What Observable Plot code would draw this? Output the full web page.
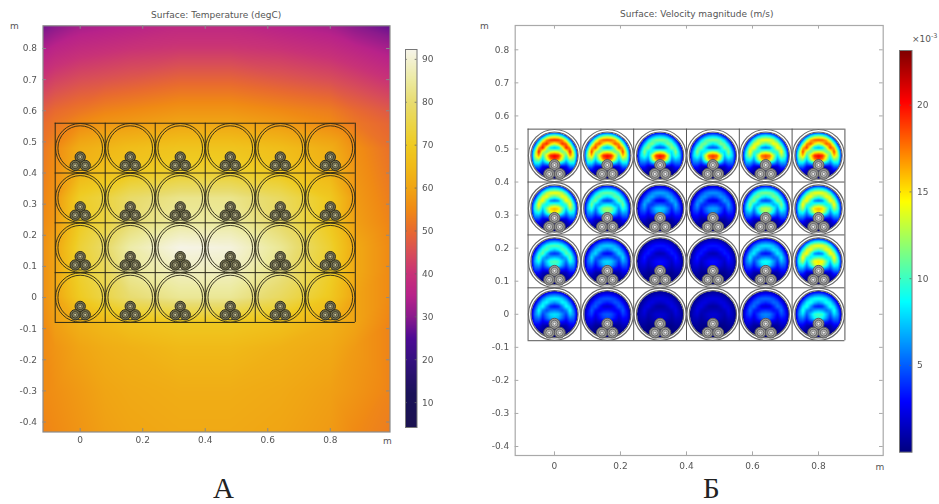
<!DOCTYPE html>
<html>
<head>
<meta charset="utf-8">
<script src="https://cdn.jsdelivr.net/npm/d3@7"></script>
<script src="https://cdn.jsdelivr.net/npm/@observablehq/plot@0.6"></script>
<style>
html,body{margin:0;padding:0;background:#fff;}
#page{position:relative;width:939px;height:504px;overflow:hidden;font-family:"DejaVu Sans",sans-serif;color:#555;}
#page svg{position:absolute;overflow:visible;background:transparent;filter:blur(.45px);}
.t{position:absolute;font-size:9px;white-space:nowrap;line-height:1;color:#555;}
.big{position:absolute;font-family:"Liberation Serif",serif;font-size:29px;color:#222;line-height:1;}
</style>
</head>
<body>
<div id="page"></div>
<script>
// ---- pipe layout (metres)
const pipeX = [0, 0.16, 0.32, 0.48, 0.64, 0.8];
const pipeY = [0, 0.16, 0.32, 0.48];
const rackX = [-0.08, 0.08, 0.24, 0.4, 0.56, 0.72, 0.88];
const rackY = [-0.08, 0.08, 0.24, 0.4, 0.56];
const cableOffsetX = [0, -0.016, 0.016];
const cableOffsetY = [-0.0285, -0.0555, -0.0555];
const ticksX = [0, 0.2, 0.4, 0.6, 0.8];
const ticksY = [-0.4, -0.3, -0.2, -0.1, 0, 0.1, 0.2, 0.3, 0.4, 0.5, 0.6, 0.7, 0.8];

// ---- temperature (degC)
const tempX = [-0.119, -0.08, 0, 0.08, 0.16, 0.32, 0.48, 0.64, 0.8, 0.88, 0.991];
const tempY = [0.873, 0.8, 0.7, 0.6, 0.56, 0.48, 0.4, 0.32, 0.24, 0.16, 0.08, 0, -0.08, -0.16, -0.3, -0.432];
const tempRows = [
  [28,30,33,34,35,37,37,35,33,30,27],
  [34,36,38,39,40,41,41,40,38,36,33],
  [41,43,45,46,47,49,49,47,45,43,40],
  [48,50,52,54,55,57,57,55,53,50,47],
  [50,52,55,57,58,60,60,58,55,52,49],
  [52,55,62,64,66,68,68,66,62,56,51],
  [53,56,64,67,69,72,72,69,64,57,52],
  [54,57,71,74,79,83,83,78,69,58,53],
  [55,58,70,74,80,85,85,79,69,59,54],
  [56,60,73,79,86,92,91,84,72,61,55],
  [56,60,72,77,84,88,88,82,71,61,55],
  [56,60,70,75,80,84,84,78,69,60,55],
  [55,59,63,65,67,69,69,67,63,60,54],
  [55,57,60,62,63,65,65,63,61,58,54],
  [55,56,58,60,61,62,62,61,59,57,54],
  [54,55,57,59,60,61,61,60,58,55,53]
];
const tempStops = [4,12,20,25,30,35,40,45,50,55,60,65,70,75,80,85,92.3];
const tempColors = ["#1b1250","#1a1258","#351080","#4d0a94","#8a1a8c","#b8228a","#c83278","#d84e58","#e86a30","#f08a14","#f0a514","#f0ba18","#efcb22","#ebd548","#e8dc70","#ecea9f","#f6f4ea"];

// ---- velocity (x10^-3 m/s); rows top to bottom, columns left to right
const arcPeak = [
  [20, 19, 12, 12, 15, 19],
  [15, 11.5, 7, 6.5, 12, 15],
  [11, 8, 3.5, 3.5, 8.5, 15],
  [9, 5, 2.3, 2.3, 5.5, 9.5]
];
const blobPeak = [
  [17, 17, 18, 17, 16, 17],
  [13.5, 10.5, 6.5, 5.5, 11, 13.5],
  [8.5, 6.5, 2.5, 2.5, 7.5, 12.5],
  [6.5, 4, 1.5, 1.5, 5, 8.5]
];
// half-pipe profile: columns from the axis to the wall, rows from pipe top to pipe bottom
const arcShape = [
  [.15,.12,.05,0,0,0,0],
  [.62,.58,.45,.22,.03,0,0],
  [.97,.95,.85,.62,.28,.03,0],
  [.68,.78,.97,.90,.58,.18,0],
  [.30,.36,.65,1,.85,.40,.05],
  [.20,.22,.30,.62,1,.58,.10],
  [.18,.18,.22,.34,.85,.65,.12],
  [.16,.15,.18,.26,.62,.55,.10],
  [.12,.12,.14,.20,.42,.42,.08],
  [.07,.07,.08,.12,.25,.25,.05],
  [.04,.04,.05,.07,.12,.08,0],
  [.02,.02,.02,.02,.02,0,0],
  [0,0,0,0,0,0,0]
];
const blobShape = [
  [0,0,0,0,0,0,0],
  [0,0,0,0,0,0,0],
  [0,0,0,0,0,0,0],
  [0,0,0,0,0,0,0],
  [.05,.04,.02,0,0,0,0],
  [.60,.52,.28,.03,0,0,0],
  [1,.95,.62,.18,0,0,0],
  [.95,.85,.55,.15,0,0,0],
  [.35,.35,.25,.08,0,0,0],
  [0,0,0,0,0,0,0],
  [0,0,0,0,0,0,0],
  [0,0,0,0,0,0,0],
  [0,0,0,0,0,0,0]
];
const jetStops = [0, 2.89, 8.66, 14.44, 20.2, 23.15];
const jetColors = ["#00007f","#0000ff","#00ffff","#ffff00","#ff0000","#7f0000"];

// ---- tables for the library
const tempPoints = tempY.flatMap((y, r) => tempX.map((x, c) => ({x, y, v: tempRows[r][c]})));
const pipes = pipeY.flatMap(y => pipeX.map(x => ({x, y})));
const cables = pipes.flatMap(p => cableOffsetX.map((dx, i) => ({x: p.x + dx, y: p.y + cableOffsetY[i]})));

function lookup(table, u, v) {
  const fx = Math.min(5.999, Math.abs(u) * 6), fy = Math.min(11.999, (1 - v) * 6);
  const i = Math.floor(fx), j = Math.floor(fy), a = fx - i, b = fy - j;
  return (table[j][i] * (1 - a) + table[j][i + 1] * a) * (1 - b) + (table[j + 1][i] * (1 - a) + table[j + 1][i + 1] * a) * b;
}
function velocity(x, y) {
  const col = Math.round(x / 0.16), row = Math.round(y / 0.16);
  if (col < 0 || col > 5 || row < 0 || row > 3) return NaN;
  const u = (x - col * 0.16) / 0.071, v = (y - row * 0.16) / 0.071;
  if (u * u + v * v > 1) return NaN;
  return arcPeak[3 - row][col] * lookup(arcShape, u, v) + blobPeak[3 - row][col] * lookup(blobShape, u, v);
}

function panel({left, width, height, mL, mR, mT, mB, xDomain, yDomain, k, field, color, frame, rack, rackW, ring, cable, pad}) {
  const tickX = 0.011, tickY = 0.011;
  const svg = Plot.plot({
    width, height, marginLeft: mL, marginRight: mR, marginTop: mT, marginBottom: mB,
    x: {domain: xDomain, label: null}, y: {domain: yDomain, label: null},
    color,
    style: {background: "transparent"},
    marks: [
      field,
      Plot.ruleX(rackX, {y1: -0.08, y2: 0.56, stroke: rack, strokeWidth: rackW}),
      Plot.ruleY(rackY, {x1: -0.08, x2: 0.88, stroke: rack, strokeWidth: rackW}),
      Plot.dot(pipes, {x: "x", y: "y", r: 0.075 * k, stroke: ring.band, strokeWidth: 0.0075 * k, fill: "none"}),
      Plot.dot(pipes, {x: "x", y: "y", r: 0.079 * k, stroke: ring.line, strokeWidth: ring.w, fill: "none"}),
      Plot.dot(pipes, {x: "x", y: "y", r: ring.inner * k, stroke: ring.line, strokeWidth: ring.w, fill: "none"}),
      Plot.dot(cables, {x: "x", y: "y", r: 0.0165 * k, fill: cable.fill, stroke: cable.line, strokeWidth: 1}),
      Plot.dot(cables, {x: "x", y: "y", r: 0.0105 * k, fill: cable.mid, stroke: cable.line, strokeWidth: 0.8}),
      Plot.dot(cables, {x: "x", y: "y", r: 0.0045 * k, fill: cable.core, stroke: cable.line, strokeWidth: 0.6}),
      Plot.ruleX(ticksX, {y1: yDomain[0], y2: yDomain[0] + tickY, stroke: frame, strokeWidth: 1}),
      Plot.ruleX(ticksX, {y1: yDomain[1], y2: yDomain[1] - tickY, stroke: frame, strokeWidth: 1}),
      Plot.ruleY(ticksY, {x1: xDomain[0], x2: xDomain[0] + tickX, stroke: frame, strokeWidth: 1}),
      Plot.ruleY(ticksY, {x1: xDomain[1], x2: xDomain[1] - tickX, stroke: frame, strokeWidth: 1}),
      Plot.axisX(ticksX, {anchor: "bottom", tickSize: 0, tickPadding: pad, label: null, tickFormat: d => String(d), fontSize: 9, fill: "#555", fontFamily: "DejaVu Sans"}),
      Plot.axisY(ticksY, {anchor: "left", tickSize: 0, tickPadding: 6, label: null, tickFormat: d => String(d), fontSize: 9, fill: "#555", fontFamily: "DejaVu Sans"}),
      Plot.frame({stroke: frame, strokeWidth: 1.2})
    ]
  });
  svg.style.left = left + "px";
  svg.style.top = "0px";
  return svg;
}

function colorbar({left, top, barW, barH, domain, ticks, color, labelW}) {
  const svg = Plot.plot({
    width: barW + labelW, height: barH, marginLeft: 0, marginRight: labelW, marginTop: 0, marginBottom: 0,
    x: {domain: [0, 1], axis: null}, y: {domain, label: null},
    color,
    style: {background: "transparent"},
    marks: [
      Plot.raster({fill: (x, y) => y, x1: 0, x2: 1, y1: domain[0], y2: domain[1], pixelSize: 1}),
      Plot.ruleY(ticks, {x1: 0, x2: 0.16, stroke: "#666", strokeOpacity: 0.8}),
      Plot.ruleY(ticks, {x1: 0.84, x2: 1, stroke: "#666", strokeOpacity: 0.8}),
      Plot.axisY(ticks, {anchor: "right", tickSize: 0, tickPadding: 5, label: null, tickFormat: d => String(d), fontSize: 9, fill: "#555", fontFamily: "DejaVu Sans"}),
      Plot.frame({stroke: "#777", strokeWidth: 1})
    ]
  });
  svg.style.left = left + "px";
  svg.style.top = top + "px";
  return svg;
}

const tempColor = {type: "linear", domain: tempStops, range: tempColors, clamp: true, interpolate: "rgb"};
const jetColor = {type: "linear", domain: jetStops, range: jetColors, clamp: true, interpolate: "rgb"};
const page = document.getElementById("page");

const xA = [-0.119, 0.991], yA = [-0.432, 0.873];
page.append(panel({
  left: 0, width: 400, height: 450, mL: 42.5, mR: 10.5, mT: 25.3, mB: 18.5,
  xDomain: xA, yDomain: yA, k: 312,
  color: tempColor,
  field: Plot.raster(tempPoints, {x: "x", y: "y", fill: "v", interpolate: "barycentric", pixelSize: 1}),
  frame: "#8a8a8a", rack: "#2b2818", rackW: 1,
  ring: {band: "none", line: "#2b2818", w: 0.9, inner: 0.0715},
  cable: {fill: "#77734f", mid: "#8e8a66", core: "#cfcba0", line: "#2b2a20"},
  pad: 5
}));

const xB = [-0.119, 0.996], yB = [-0.4272, 0.8735];
page.append(panel({
  left: 470, width: 430, height: 480, mL: 44.7, mR: 17.3, mT: 25, mB: 25,
  xDomain: xB, yDomain: yB, k: 330,
  color: jetColor,
  field: Plot.raster({fill: velocity, x1: xB[0], x2: xB[1], y1: yB[0], y2: yB[1], pixelSize: 1}),
  frame: "#a9a9a9", rack: "#555", rackW: 1,
  ring: {band: "#ffffff", line: "#6a6a6a", w: 1.2, inner: 0.0715},
  cable: {fill: "#949494", mid: "#b8b8b8", core: "#f0f0f0", line: "#5a5a5a"},
  pad: 7
}));

page.append(colorbar({left: 405, top: 49, barW: 11.5, barH: 378, domain: [4.2, 92.3], ticks: [10,20,30,40,50,60,70,80,90], color: tempColor, labelW: 30}));
page.append(colorbar({left: 899, top: 50, barW: 12.5, barH: 401.7, domain: [0, 23.15], ticks: [5,10,15,20], color: jetColor, labelW: 26}));

function note(text, x, y, cls = "t", sup) {
  const d = document.createElement("div");
  d.className = cls;
  d.style.left = x + "px";
  d.style.top = y + "px";
  d.textContent = text;
  if (sup) { const s = document.createElement("sup"); s.textContent = sup; s.style.fontSize = "6.5px"; s.style.lineHeight = "0"; d.append(s); }
  page.append(d);
}
note("Surface: Temperature (degC)", 151, 11);
note("Surface: Velocity magnitude (m/s)", 620, 10);
note("m", 10, 22);
note("m", 383, 437);
note("m", 480, 22);
note("m", 875.5, 462.5);
note("×10", 912, 35, "t", "-3");
note("А", 213, 474, "big");
note("Б", 703, 474, "big");
</script>
</body>
</html>
